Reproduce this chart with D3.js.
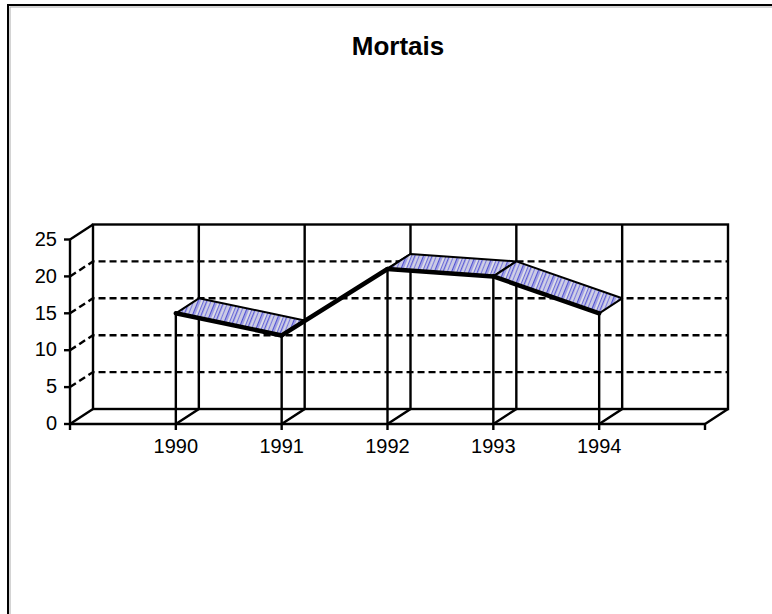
<!DOCTYPE html>
<html>
<head>
<meta charset="utf-8">
<script src="https://cdn.jsdelivr.net/npm/d3@7"></script>
<style>
  body { margin: 0; background: #fff; }
  text { font-family: "Liberation Sans", Arial, sans-serif; fill: #000; }
</style>
</head>
<body>
<div class="svg-container"></div>
<script>
// data
var years = ["1990", "1991", "1992", "1993", "1994"];
var mortais = [15, 12, 21, 20, 15];
var yTicks = [0, 5, 10, 15, 20, 25];
var title = "Mortais";

var width = 772, height = 614;
var dx = 23, dy = -15;   // depth offset of the back wall
var lw = 2.4;

var svg = d3.select(".svg-container").append("svg")
    .attr("width", width)
    .attr("height", height);

// outer frame (only left and top visible)
svg.append("rect")
    .attr("x", 8).attr("y", 5)
    .attr("width", 800).attr("height", 700)
    .attr("fill", "none")
    .attr("stroke", "#000")
    .attr("stroke-width", 2);
svg.append("rect")
    .attr("x", 10).attr("y", 7)
    .attr("width", 800).attr("height", 700)
    .attr("fill", "none")
    .attr("stroke", "#aaa")
    .attr("stroke-width", 1);

// scales
var x = d3.scaleLinear().domain([0, years.length + 1]).range([70, 705]);
var y = d3.scaleLinear().domain([0, 25]).range([424, 239.5]);

// streaky fill for the ribbon
var defs = svg.append("defs");
var pat = defs.append("pattern")
    .attr("id", "streak")
    .attr("patternUnits", "userSpaceOnUse")
    .attr("width", 16).attr("height", 16)
    .attr("patternTransform", "rotate(22)");
pat.append("rect").attr("width", 16).attr("height", 16).attr("fill", "#bcbce6");
var stripes = [[0, 1.5, "#5c5cd6"], [1.5, 2, "#d6d6e6"], [4, 1, "#7a7ade"], [5, 3, "#cacae4"],
               [8, 1, "#5050d2"], [9, 2, "#a0a0e2"], [11, 2, "#dcdce8"], [13, 1, "#6a6ad8"], [14, 2, "#c4c4e6"]];
stripes.forEach(function(s) {
    pat.append("rect").attr("x", s[0]).attr("width", s[1]).attr("height", 16).attr("fill", s[2]);
});

var x0 = x(0), x1 = x(years.length + 1);
var yb = y(0), yt = y(25);

// back wall
svg.append("rect")
    .attr("x", x0 + dx).attr("y", yt + dy)
    .attr("width", x1 - x0).attr("height", yb - yt)
    .attr("fill", "none").attr("stroke", "#000").attr("stroke-width", lw);

// side wall + floor outlines
var walls = [
    [[x0, yb], [x0 + dx, yb + dy]],
    [[x0, yt], [x0 + dx, yt + dy]],
    [[x1, yb], [x1 + dx, yb + dy]]
];
walls.forEach(function(w) {
    svg.append("line")
        .attr("x1", w[0][0]).attr("y1", w[0][1])
        .attr("x2", w[1][0]).attr("y2", w[1][1])
        .attr("stroke", "#000").attr("stroke-width", lw);
});

// dashed value gridlines (side wall + back wall)
var inner = yTicks.filter(function(t) { return t > 0 && t < 25; });
inner.forEach(function(t) {
    svg.append("polyline")
        .attr("points", [[x0, y(t)], [x0 + dx, y(t) + dy], [x1 + dx, y(t) + dy]].join(" "))
        .attr("fill", "none").attr("stroke", "#000")
        .attr("stroke-width", lw).attr("stroke-dasharray", "7,4");
});

// category gridlines on floor and back wall
years.forEach(function(d, i) {
    var cx = x(i + 1);
    svg.append("polyline")
        .attr("points", [[cx, yb], [cx + dx, yb + dy], [cx + dx, yt + dy]].join(" "))
        .attr("fill", "none").attr("stroke", "#000").attr("stroke-width", lw);
});

// ribbon
var pts = mortais.map(function(v, i) { return [x(i + 1), y(v)]; });
for (var i = 0; i < pts.length - 1; i++) {
    var a = pts[i], b = pts[i + 1];
    svg.append("polygon")
        .attr("points", [a, b, [b[0] + dx, b[1] + dy], [a[0] + dx, a[1] + dy]].join(" "))
        .attr("fill", "url(#streak)")
        .attr("stroke", "#000").attr("stroke-width", 2)
        .attr("stroke-linejoin", "round");
    svg.append("line")
        .attr("x1", a[0]).attr("y1", a[1])
        .attr("x2", b[0]).attr("y2", b[1])
        .attr("stroke", "#000").attr("stroke-width", 4.5)
        .attr("stroke-linecap", "round");
}

// drop lines
pts.forEach(function(p) {
    svg.append("line")
        .attr("x1", p[0]).attr("y1", p[1])
        .attr("x2", p[0]).attr("y2", yb)
        .attr("stroke", "#000").attr("stroke-width", lw);
});

// value axis
svg.append("line")
    .attr("x1", x0).attr("y1", yb).attr("x2", x0).attr("y2", yt)
    .attr("stroke", "#000").attr("stroke-width", lw);
yTicks.forEach(function(t) {
    svg.append("line")
        .attr("x1", x0 - 6).attr("y1", y(t)).attr("x2", x0).attr("y2", y(t))
        .attr("stroke", "#000").attr("stroke-width", lw);
    svg.append("text")
        .attr("x", 57).attr("y", y(t) + 1)
        .attr("text-anchor", "end")
        .attr("dominant-baseline", "middle")
        .style("font-size", "20px")
        .text(t);
});

// category axis
svg.append("line")
    .attr("x1", x0).attr("y1", yb).attr("x2", x1).attr("y2", yb)
    .attr("stroke", "#000").attr("stroke-width", lw);
d3.range(years.length + 2).forEach(function(k) {
    svg.append("line")
        .attr("x1", x(k)).attr("y1", yb).attr("x2", x(k)).attr("y2", yb + 6)
        .attr("stroke", "#000").attr("stroke-width", lw);
});
years.forEach(function(d, i) {
    svg.append("text")
        .attr("x", x(i + 1)).attr("y", 448)
        .attr("text-anchor", "middle")
        .attr("dominant-baseline", "middle")
        .style("font-size", "20px")
        .text(d);
});

// title
svg.append("text")
    .attr("x", 398).attr("y", 48)
    .attr("text-anchor", "middle")
    .attr("dominant-baseline", "middle")
    .style("font-size", "26px")
    .style("font-weight", "bold")
    .text(title);
</script>
</body>
</html>
